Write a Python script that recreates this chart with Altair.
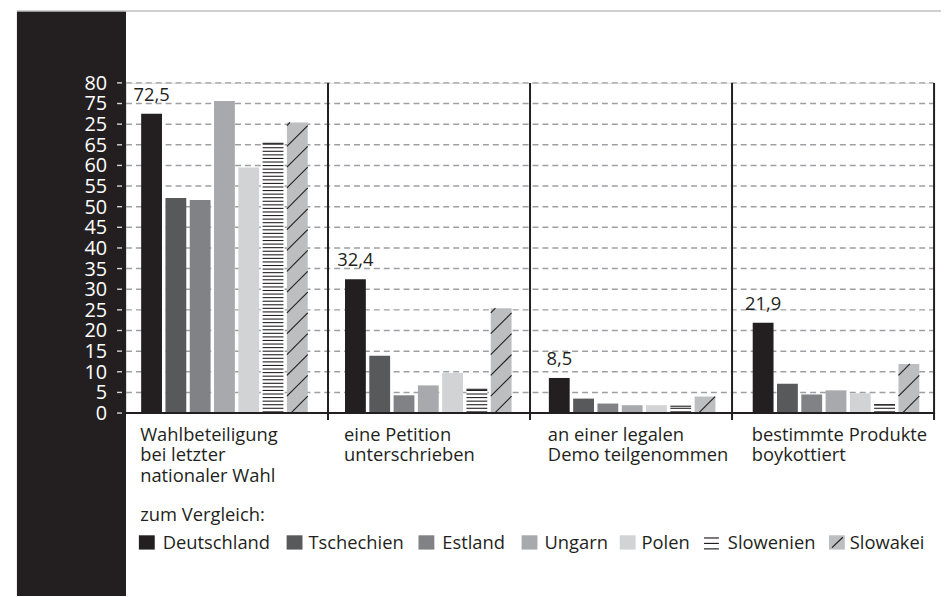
import altair as alt
import pandas as pd

# ---------------- data ----------------
CATEGORIES = [
    ["Wahlbeteiligung", "bei letzter", "nationaler Wahl"],
    ["eine Petition", "unterschrieben"],
    ["an einer legalen", "Demo teilgenommen"],
    ["bestimmte Produkte", "boykottiert"],
]
COUNTRIES = ["Deutschland", "Tschechien", "Estland", "Ungarn", "Polen", "Slowenien", "Slowakei"]
DEUTSCHLAND = [72.5, 32.4, 8.5, 21.9]
TSCHECHIEN = [52.1, 13.9, 3.5, 7.1]
ESTLAND = [51.6, 4.3, 2.3, 4.5]
UNGARN = [75.6, 6.7, 1.9, 5.5]
POLEN = [59.5, 9.7, 1.9, 4.8]
SLOWENIEN = [65.5, 5.9, 1.8, 2.1]
SLOWAKEI = [70.4, 25.4, 4.0, 11.9]
VALUE_LABELS = ["72,5", "32,4", "8,5", "21,9"]
Y_TICKS = list(range(0, 85, 5))
Y_LABEL_OVERRIDES = {70: "25"}  # as printed in the original
LEGEND_TITLE = "zum Vergleich:"

# ---------------- styles / layout ----------------
COLORS = ["#231f20", "#58595b", "#808285", "#a7a9ac", "#d1d3d4", "#ffffff", "#bcbec0"]
INK = "#231f20"
GRID = "#9d9fa2"
FONT = "Open Sans"
W, H = 815, 333
YMAX = 80
PANEL_PX = W / 4
GROUP_STEP_PX = 205.6
FIRST_OFF_PX = 15.3
BAR_STEP_PX = 24.5
BAR_W_PX = 21.0
STRIPE_PX = 3.6
HATCH_PX = 21.0
CAT_Y0 = H + 28.3
CAT_LINE = 20.5
LEGEND_SWATCH_X = [13, 162, 295, 399, 498, 583, 709]   # relative to plot left
LEGEND_TEXT_X = [37, 184, 319, 422, 520, 607, 730]
LEGEND_SWATCH_Y = (456.3, 470.7)
LEGEND_TEXT_Y = 469.7
LEGEND_EQ_Y = [459.0, 464.5, 470.0]

px2x = lambda p: p / PANEL_PX
px2y = lambda p: p * YMAX / H

series = [DEUTSCHLAND, TSCHECHIEN, ESTLAND, UNGARN, POLEN, SLOWENIEN, SLOWAKEI]
rows = []
for i in range(len(CATEGORIES)):
    for j, c in enumerate(COUNTRIES):
        x0 = px2x(i * GROUP_STEP_PX + FIRST_OFF_PX + j * BAR_STEP_PX)
        rows.append(dict(i=i, country=c, value=series[j][i], x0=x0, x1=x0 + px2x(BAR_W_PX)))
bars = pd.DataFrame(rows)

# stripes (Slowenien) and hatch (Slowakei), derived from the bar values
stripes = []
hatch = []
for _, r in bars.iterrows():
    hpx = r.value * H / YMAX
    if r.country == "Slowenien":
        h = 1.2
        while h < hpx:
            stripes.append(dict(x0=r.x0, x1=r.x1, y=px2y(h)))
            h += STRIPE_PX
        stripes.append(dict(x0=r.x0, x1=r.x1, y=r.value - px2y(0.6)))
    if r.country == "Slowakei":
        k = -2
        while True:
            h0 = k * HATCH_PX - 4
            if h0 > hpx:
                break
            ts = max(0.0, -h0)
            te = min(BAR_W_PX, hpx - h0)
            if ts < te:
                hatch.append(dict(xa=r.x0 + px2x(ts), xb=r.x0 + px2x(te),
                                  ya=px2y(h0 + ts), yb=px2y(h0 + te)))
            k += 1
stripes = pd.DataFrame(stripes)
hatch = pd.DataFrame(hatch)

grid = pd.DataFrame({"gy": [t for t in Y_TICKS if t > 0]})
ticks = pd.DataFrame({"ty": Y_TICKS,
                      "tl": [Y_LABEL_OVERRIDES.get(t, str(t)) for t in Y_TICKS]})
seps = pd.DataFrame({"sx": [1, 2, 3, 4]})
first = bars[bars.country == "Deutschland"].copy()
first["lab"] = VALUE_LABELS
first["xc"] = (first.x0 + first.x1) / 2

legend = pd.DataFrame({"country": COUNTRIES, "lx": LEGEND_SWATCH_X, "tx": LEGEND_TEXT_X})
legend["lx2"] = legend.lx + 16
legend_sq = legend[legend.country != "Slowenien"]
eq = pd.DataFrame({"ey": LEGEND_EQ_Y, "ex": LEGEND_SWATCH_X[5], "ex2": LEGEND_SWATCH_X[5] + 15})
one = pd.DataFrame({"a": [0]})

xs = alt.Scale(domain=[0, 4], nice=False, zero=False)
ys = alt.Scale(domain=[0, YMAX], nice=False)
cs = alt.Scale(domain=COUNTRIES, range=COLORS)

strip = alt.Chart(one).mark_rect(color=INK).encode(
    x=alt.value(-110), x2=alt.value(0), y=alt.value(-72), y2=alt.value(H + 200))
topline = alt.Chart(one).mark_rule(color=GRID, strokeWidth=1.2).encode(
    x=alt.value(-110), x2=alt.value(W + 20), y=alt.value(-72.5))
gridl = alt.Chart(grid).mark_rule(color=GRID, strokeWidth=1.5, strokeDash=[6, 4]).encode(
    y=alt.Y("gy:Q", scale=ys, axis=None), x=alt.value(0), x2=alt.value(W))
tickl = alt.Chart(ticks).mark_rule(color="#d9d9d9", strokeWidth=1.4).encode(
    y=alt.Y("ty:Q", scale=ys, axis=None), x=alt.value(-9), x2=alt.value(-4))
ylab = alt.Chart(ticks).mark_text(font=FONT, fontSize=20, color="white", align="right",
                                  baseline="middle", dy=1).encode(
    y=alt.Y("ty:Q", scale=ys, axis=None), x=alt.value(-19), text="tl:N")

barl = alt.Chart(bars).mark_bar().encode(
    x=alt.X("x0:Q", scale=xs, axis=None), x2="x1:Q",
    y=alt.Y("value:Q", scale=ys, title=None,
            axis=alt.Axis(labels=False, ticks=False, domain=False, grid=False)),
    y2=alt.datum(0),
    color=alt.Color("country:N", scale=cs, legend=None))

stripel = alt.Chart(stripes).mark_rule(color=INK, strokeWidth=1.1).encode(
    x=alt.X("x0:Q", scale=xs, axis=None), x2="x1:Q", y=alt.Y("y:Q", scale=ys, axis=None))
hatchl = alt.Chart(hatch).mark_rule(color=INK, strokeWidth=1.1).encode(
    x=alt.X("xa:Q", scale=xs, axis=None), x2="xb:Q",
    y=alt.Y("ya:Q", scale=ys, axis=None), y2="yb:Q")
basel = alt.Chart(one).mark_rule(color=INK, strokeWidth=2).encode(
    x=alt.value(-2), x2=alt.value(W + 1), y=alt.value(H))
sepl = alt.Chart(seps).mark_rule(color=INK, strokeWidth=2).encode(
    x=alt.X("sx:Q", scale=xs, axis=None), y=alt.datum(YMAX), y2=alt.value(H + 7))
vall = alt.Chart(first).mark_text(font=FONT, fontSize=18.5, color=INK, baseline="alphabetic", dy=-13).encode(
    x=alt.X("xc:Q", scale=xs, axis=None), y=alt.Y("value:Q", scale=ys, axis=None), text="lab:N")

cat_layers = []
for k in range(max(len(c) for c in CATEGORIES)):
    d = pd.DataFrame([dict(x0=first.x0.iloc[i], line=lines[k])
                      for i, lines in enumerate(CATEGORIES) if k < len(lines)])
    cat_layers.append(
        alt.Chart(d).mark_text(font=FONT, fontSize=18.5, color=INK, align="left",
                               baseline="alphabetic", dx=-1).encode(
            x=alt.X("x0:Q", scale=xs, axis=None), y=alt.value(CAT_Y0 + k * CAT_LINE), text="line:N"))

legtitle = alt.Chart(one).mark_text(font=FONT, fontSize=18.5, color=INK, align="left", baseline="alphabetic",
                                    text=LEGEND_TITLE).encode(x=alt.value(14.3), y=alt.value(441.7))
legsq = alt.Chart(legend_sq).mark_rect().encode(
    x=alt.X("lx:Q", scale=None, axis=None), x2="lx2:Q",
    y=alt.value(LEGEND_SWATCH_Y[0]), y2=alt.value(LEGEND_SWATCH_Y[1]),
    color=alt.Color("country:N", scale=cs, legend=None))
legdiag = alt.Chart(one).mark_rule(color=INK, strokeWidth=1.2).encode(
    x=alt.value(LEGEND_SWATCH_X[6] + 3), x2=alt.value(LEGEND_SWATCH_X[6] + 14),
    y=alt.value(LEGEND_SWATCH_Y[1] - 2), y2=alt.value(LEGEND_SWATCH_Y[0] + 2))
legeq = alt.Chart(eq).mark_rule(color=INK, strokeWidth=1.2).encode(
    x=alt.X("ex:Q", scale=None, axis=None), x2="ex2:Q", y=alt.Y("ey:Q", scale=None, axis=None))
legtxt = alt.Chart(legend).mark_text(font=FONT, fontSize=18.5, color=INK, align="left", baseline="alphabetic").encode(
    x=alt.X("tx:Q", scale=None, axis=None), y=alt.value(LEGEND_TEXT_Y), text="country:N")

chart = alt.layer(strip, topline, gridl, tickl, barl, stripel, hatchl, basel, sepl, ylab, vall, *cat_layers,
                  legtitle, legsq, legdiag, legeq, legtxt).properties(
    width=W, height=H,
    padding={"left": 119, "top": 73, "right": 7, "bottom": 182},
    autosize=alt.AutoSizeParams(type="none"),
    background="white",
).configure_view(stroke=None).configure(font=FONT)

chart.save("out.html", embed_options={"renderer": "svg", "actions": False})
